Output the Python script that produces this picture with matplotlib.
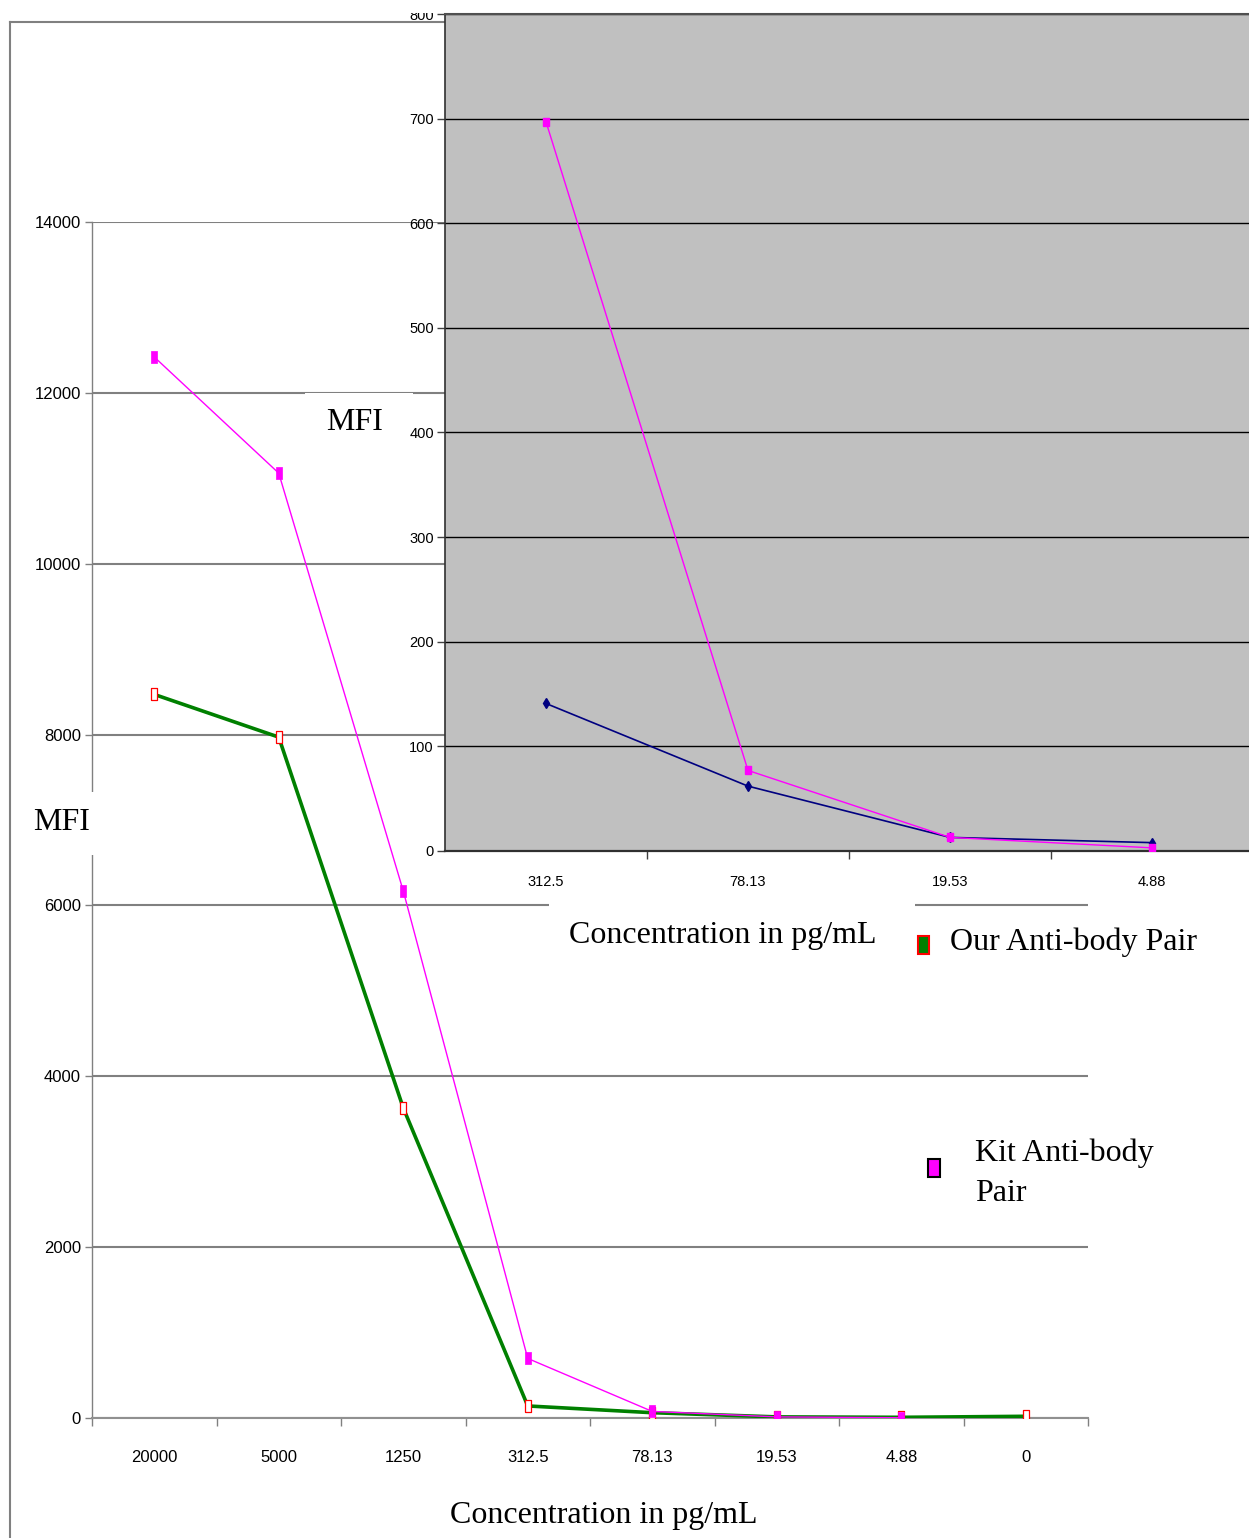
import numpy as np
import matplotlib
matplotlib.use("Agg")
import matplotlib.pyplot as plt
from matplotlib.patches import Rectangle
from matplotlib.lines import Line2D
from matplotlib.transforms import Bbox, TransformedBbox

W, H = 1249, 1538

# concentrations (pg/mL) and MFI readings
conc_labels = ["20000", "5000", "1250", "312.5", "78.13", "19.53", "4.88", "0"]
our_mfi = [8470, 7970, 3630, 141, 62, 13, 8, 20]
kit_mfi = [12420, 11060, 6170, 697, 77, 13, 3, np.nan]

# zoomed view of the low end
zoom_labels = conc_labels[3:7]
zoom_our = our_mfi[3:7]
zoom_kit = kit_mfi[3:7]

main_yticks = [0, 2000, 4000, 6000, 8000, 10000, 12000, 14000]
zoom_yticks = [0, 100, 200, 300, 400, 500, 600, 700, 800]

NARROW = ["Liberation Sans Narrow", "Liberation Sans", "DejaVu Sans"]
SERIF = ["Liberation Serif", "DejaVu Serif"]

# tall thin box markers
tall_box = [(-0.5, -1), (0.5, -1), (0.5, 1), (-0.5, 1), (-0.5, -1)]
small_box = [(-0.33, -0.5), (0.33, -0.5), (0.33, 0.5), (-0.33, 0.5), (-0.33, -0.5)]


def fx(x):
    return x / W


def fy(y):
    return 1 - y / H


def main() -> int:
    fig = plt.figure(figsize=(W / 100, H / 100), dpi=100)
    fig.patch.set_facecolor("white")

    # outer frame of the main chart
    fig.add_artist(Line2D([fx(10), fx(10)], [fy(22), fy(1540)], color="#808080", lw=1.5, zorder=-1))
    fig.add_artist(Line2D([fx(10), fx(460)], [fy(22), fy(22)], color="#808080", lw=1.5, zorder=-1))

    # ---- main chart ----
    ax = fig.add_axes([fx(92), fy(1418), (1088 - 92) / W, (1418 - 222) / H])
    ax.set_zorder(0)
    x = np.arange(len(conc_labels))
    ax.plot(x, our_mfi, color="#008000", lw=2.6, marker=tall_box, markersize=8.6,
            markerfacecolor="white", markeredgecolor="red", markeredgewidth=0.9, zorder=4)
    ax.plot(x, kit_mfi, color="magenta", lw=1.0, marker=tall_box, markersize=8.6,
            markerfacecolor="magenta", markeredgecolor="magenta", markeredgewidth=0.5, zorder=5)
    ax.set_xlim(-0.5, 7.5)
    ax.set_ylim(0, 14000)
    ax.set_yticks(main_yticks)
    ax.set_yticklabels([str(v) for v in main_yticks], fontfamily=NARROW, fontsize=12)
    ax.set_xticks(x)
    ax.set_xticklabels(conc_labels, fontfamily=NARROW, fontsize=12)
    ax.set_xticks(np.arange(-0.5, 8, 1), minor=True)
    ax.tick_params(axis="x", which="major", length=0, pad=23)
    ax.tick_params(axis="x", which="minor", length=6, width=1, color="#808080", direction="out")
    ax.tick_params(axis="y", length=5, width=1, color="#808080", pad=3)
    ax.grid(axis="y", color="#808080", lw=1.5)
    ax.set_axisbelow(True)
    for s in ["top", "right"]:
        ax.spines[s].set_visible(False)
    ax.spines["left"].set_color("#808080")
    ax.spines["left"].set_linewidth(1)
    ax.spines["bottom"].set_color("#909090")
    ax.spines["bottom"].set_linewidth(1.5)

    # white boxes behind the floating labels
    for (x0, y0, x1, y1) in [(25, 792, 96, 855), (305, 393, 413, 455), (549, 898, 915, 975)]:
        fig.add_artist(Rectangle((fx(x0), fy(y1)), fx(x1) - fx(x0), fy(y0) - fy(y1),
                                 facecolor="white", edgecolor="none", zorder=2))

    # ---- zoomed inset ----
    ins = fig.add_axes([fx(445), fy(851), (1253 - 445) / W, (851 - 14) / H])
    ins.set_zorder(5)
    ins.set_facecolor("#C0C0C0")
    xi = np.arange(len(zoom_labels))
    ins.plot(xi, zoom_our, color="#000080", lw=1.2, marker="d", markersize=5.5,
             markerfacecolor="#000080", markeredgecolor="#000080", zorder=4)
    ins.plot(xi, zoom_kit, color="magenta", lw=1.0, marker=small_box, markersize=5.5,
             markerfacecolor="magenta", markeredgecolor="magenta", zorder=5)
    ins.set_xlim(-0.5, 3.5)
    ins.set_ylim(0, 800)
    ins.set_yticks(zoom_yticks)
    ins.set_yticklabels([str(v) for v in zoom_yticks], fontfamily=NARROW, fontsize=10.5)
    ins.set_xticks(xi)
    ins.set_xticklabels(zoom_labels, fontfamily=NARROW, fontsize=10.5)
    ins.set_xticks([0.5, 1.5, 2.5], minor=True)
    ins.tick_params(axis="x", which="major", length=0, pad=17)
    ins.tick_params(axis="x", which="minor", length=6, width=1, color="#404040", direction="out")
    ins.tick_params(axis="y", length=6, width=1, color="#404040", pad=2)
    ins.grid(axis="y", color="black", lw=1)
    ins.set_axisbelow(True)
    ins.spines["right"].set_visible(False)
    ins.spines["top"].set_color("#505050")
    ins.spines["top"].set_linewidth(1.5)
    ins.spines["left"].set_color("#303030")
    ins.spines["left"].set_linewidth(1.2)
    ins.spines["bottom"].set_color("#303030")
    ins.spines["bottom"].set_linewidth(1.6)

    # axis titles
    kw = dict(fontfamily=SERIF, fontsize=23, color="black", zorder=6)
    fig.text(fx(62), fy(822), "MFI", ha="center", va="center", **kw)
    fig.text(fx(355), fy(423), "MFI", ha="center", va="center", **kw)
    fig.text(fx(604), fy(1516), "Concentration in pg/mL", ha="center", va="center", **kw)
    fig.text(fx(723), fy(936), "Concentration in pg/mL", ha="center", va="center", **kw)

    # legend entries
    fig.add_artist(Rectangle((fx(918), fy(954)), fx(11), 18 / H, facecolor="#008000",
                             edgecolor="red", lw=1.5, zorder=6))
    fig.text(fx(950), fy(942), "Our Anti-body Pair", ha="left", va="center", **kw)
    fig.add_artist(Rectangle((fx(928), fy(1177)), fx(12), 18 / H, facecolor="magenta",
                             edgecolor="black", lw=1.5, zorder=6))
    fig.text(fx(975), fy(1173), "Kit Anti-body\nPair", ha="left", va="center",
             linespacing=1.5, **kw)

    # the top inset label runs off the page edge; trim it after layout
    fig.canvas.draw()
    top_label = ins.yaxis.get_major_ticks()[-1].label1
    top_label.set_clip_box(TransformedBbox(Bbox([[0, 0], [1, fy(13)]]), fig.transFigure))
    top_label.set_clip_on(True)

    fig.savefig("out.png", dpi=100)
    return 0


if __name__ == "__main__":
    main()
